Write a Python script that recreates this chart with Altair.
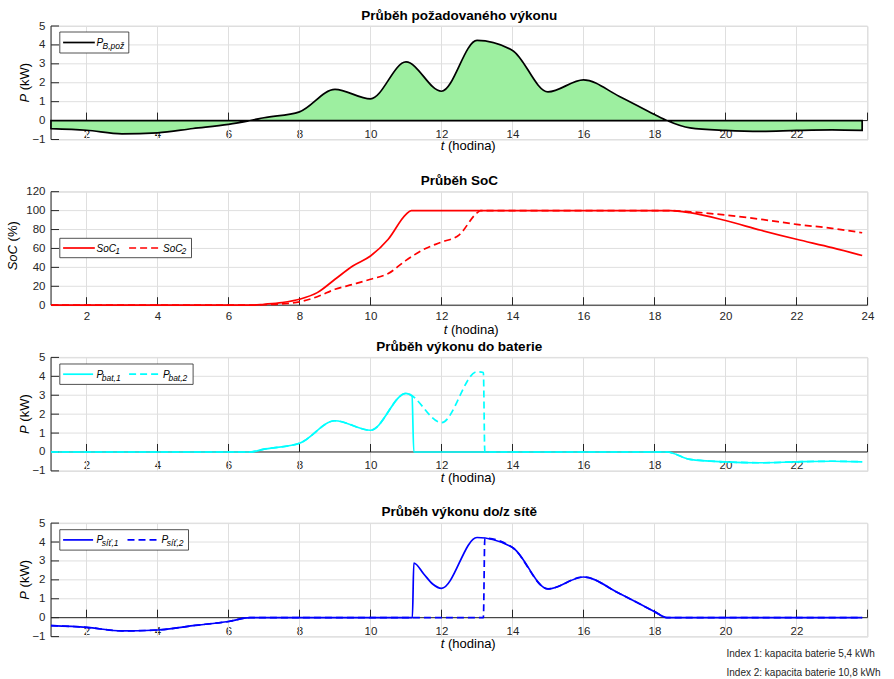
import altair as alt
import pandas as pd

# ---------------- data ----------------
hours_grid = [2, 4, 6, 8, 10, 12, 14, 16, 18, 20, 22, 24]
x_labels_origin = [2, 4, 6, 8, 10, 12, 14, 16, 18, 20, 22]
x_labels_soc = [2, 4, 6, 8, 10, 12, 14, 16, 18, 20, 22, 24]
p_ticks = [-1, 0, 1, 2, 3, 4, 5]
soc_ticks = [0, 20, 40, 60, 80, 100, 120]

# requested power P_B,pož (kW)
t_b = [1, 2, 3, 4, 5, 6, 6.6, 7, 8, 9, 10, 11, 12, 13, 14, 15, 16, 17, 18, 18.35,
       19, 20, 21, 22, 23, 23.85]
p_b = [-0.42, -0.51, -0.70, -0.65, -0.42, -0.20, 0.0, 0.15, 0.46, 1.65, 1.15, 3.10,
       1.55, 4.24, 3.71, 1.52, 2.15, 1.29, 0.32, 0.0, -0.39, -0.52, -0.57, -0.52,
       -0.49, -0.52]

# state of charge (%)
t_soc1 = [1, 6.65, 7, 7.5, 8, 8.5, 9, 9.5, 10, 10.5, 11, 11.15, 18.45, 19, 20, 21,
          22, 23, 23.85]
soc1 = [0, 0, 1, 2.8, 6.3, 13.3, 27.4, 41.5, 52, 69.7, 96, 100, 100, 97.8, 89.5,
        79.2, 69.7, 60.9, 52.5]
t_soc2 = [1, 6.65, 7, 7.5, 8, 8.5, 9, 9.5, 10, 10.5, 11, 11.5, 12, 12.5, 13, 13.1,
          18.45, 19, 20, 21, 22, 23, 23.85]
soc2 = [0, 0, 0.5, 1.4, 3.5, 9, 16.8, 22, 27.4, 33.5, 47.4, 59, 66.7, 74.4, 97.6,
        100, 100, 98.8, 95.3, 90.8, 85.5, 81.3, 76.6]

# battery power (kW)
t_bat1 = [1, 6.6, 7, 8, 9, 10, 11, 11.17, 11.22, 18.35, 19, 20, 21, 22, 23, 23.85]
p_bat1 = [0, 0, 0.15, 0.46, 1.65, 1.15, 3.10, 2.95, 0, 0, -0.39, -0.52, -0.57,
          -0.52, -0.49, -0.52]
t_bat2 = [1, 6.6, 7, 8, 9, 10, 11, 12, 13, 13.18, 13.22, 18.35, 19, 20, 21, 22, 23,
          23.85]
p_bat2 = [0, 0, 0.15, 0.46, 1.65, 1.15, 3.10, 1.55, 4.24, 4.2, 0, 0, -0.39, -0.52,
          -0.57, -0.52, -0.49, -0.52]

# grid power (kW)
t_sit1 = [1, 2, 3, 4, 5, 6, 6.6, 11.18, 11.22, 11.5, 11.75, 12, 13, 14, 15, 16, 17,
          18, 18.35, 23.85]
p_sit1 = [-0.42, -0.51, -0.70, -0.65, -0.42, -0.20, 0, 0, 2.89, 2.31, 1.78, 1.55,
          4.24, 3.71, 1.52, 2.15, 1.29, 0.32, 0, 0]
t_sit2 = [1, 2, 3, 4, 5, 6, 6.6, 13.18, 13.22, 14, 15, 16, 17, 18, 18.35, 23.85]
p_sit2 = [-0.42, -0.51, -0.70, -0.65, -0.42, -0.20, 0, 0, 4.2, 3.71, 1.52, 2.15,
          1.29, 0.32, 0, 0]

# ---------------- style ----------------
W, H = 816.5, 113.5
FONT = "Liberation Sans"
AX = "#262626"
GRID = "#dfdfdf"
LW = 1.7
DASH = [7, 4]
one = pd.DataFrame({"k": [0]})
x_scale = alt.Scale(domain=[1, 24], nice=False, zero=False)


def txt(s, x, y, size=13, style="normal", weight="normal", align="left",
        baseline="alphabetic", angle=0, color="black"):
    return alt.Chart(one).mark_text(
        text=s, fontSize=size, fontStyle=style, fontWeight=weight, align=align,
        baseline=baseline, angle=angle, color=color, font=FONT
    ).encode(x=alt.value(x), y=alt.value(y))


def legend_box(x1, x2, y1, y2):
    return alt.Chart(one).mark_rect(fill="white", stroke=AX, strokeWidth=0.8).encode(
        x=alt.value(x1), x2=alt.value(x2), y=alt.value(y1), y2=alt.value(y2))


def legend_line(x1, x2, y, color, dashed=False):
    kw = dict(color=color, strokeWidth=LW)
    if dashed:
        kw["strokeDash"] = DASH
    return alt.Chart(one).mark_rule(**kw).encode(
        x=alt.value(x1), x2=alt.value(x2), y=alt.value(y), y2=alt.value(y))


def frame(ydom, yvals, xlabels, x_offset, x_pad):
    ys = alt.Scale(domain=ydom, nice=False, zero=False)
    xa = alt.Axis(values=xlabels, grid=False, ticks=False, domain=False,
                  labelFont=FONT, labelFontSize=11.5, labelColor=AX,
                  labelPadding=x_pad, labelFlush=False, labelOverlap=False,
                  title=None, offset=x_offset)
    ya = alt.Axis(values=yvals, grid=False, ticks=False, domain=False,
                  labelFont=FONT, labelFontSize=11.5, labelColor=AX,
                  labelPadding=6, labelFlush=False, labelOverlap=False, title=None)

    def X(f):
        return alt.X(f, type="quantitative", scale=x_scale, axis=xa)

    def Y(f):
        return alt.Y(f, type="quantitative", scale=ys, axis=ya)

    def XD(v):
        return alt.XDatum(v, type="quantitative", scale=x_scale, axis=xa)

    def YD(v):
        return alt.YDatum(v, type="quantitative", scale=ys, axis=ya)

    hg = pd.DataFrame({"h": hours_grid})
    yg = pd.DataFrame({"v": yvals})
    layers = [
        alt.Chart(hg).mark_rule(color=GRID, strokeWidth=1).encode(x=X("h")),
        alt.Chart(yg).mark_rule(color=GRID, strokeWidth=1).encode(y=Y("v")),
        alt.Chart(one).mark_rule(color=AX, strokeWidth=1).encode(y=YD(0)),
        alt.Chart(one).mark_rule(color=AX, strokeWidth=1).encode(x=XD(1)),
        alt.Chart(hg).mark_rule(color=AX, strokeWidth=1, y2Offset=-8).encode(
            x=X("h"), y=YD(0), y2=alt.Y2Datum(0)),
        alt.Chart(yg).mark_rule(color=AX, strokeWidth=1, x2Offset=8).encode(
            y=Y("v"), x=XD(1), x2=alt.X2Datum(1)),
    ]
    return layers, X, Y


def line(t, v, color, X, Y, dashed=False):
    kw = dict(color=color, strokeWidth=LW, interpolate="monotone")
    if dashed:
        kw["strokeDash"] = DASH
    return alt.Chart(pd.DataFrame({"t": t, "p": v})).mark_line(**kw).encode(
        x=X("t"), y=Y("p"))


def xtitle(x, y):
    return [txt("t", x, y, style="italic"), txt("(hodina)", x + 7.2, y)]


def ytitle_p(x, y0):
    return [txt("P", x, y0, style="italic", angle=270, baseline="middle"),
            txt("(kW)", x, y0 - 12.3, angle=270, baseline="middle")]


OFF = -H / 6

# ---------- panel 1 ----------
l1, X1, Y1 = frame([-1, 5], p_ticks, x_labels_origin, OFF, 7.5)
area = alt.Chart(pd.DataFrame({"t": t_b, "p": p_b})).mark_area(
    interpolate="monotone", fill="#9DEFA0", stroke="black", strokeWidth=LW,
    opacity=1).encode(x=X1("t"), y=Y1("p"), y2=alt.Y2Datum(0))
p1 = alt.layer(
    *l1, area,
    legend_box(8.8, 77.8, 6, 27), legend_line(12.1, 43.8, 16.5, "black"),
    txt("P", 45.5, 20, size=10, style="italic"),
    txt("B,pož", 51.5, 23, size=8.5, style="italic"),
    *xtitle(389.8, H + 10.5), *ytitle_p(-26.2, 76.6),
    txt("Průběh požadovaného výkonu", W / 2, -6, size=13.5, weight="bold",
        align="center"),
).properties(width=W, height=H)

# ---------- panel 2 ----------
l2, X2, Y2 = frame([0, 120], soc_ticks, x_labels_soc, 0, 5.5)
p2 = alt.layer(
    *l2,
    line(t_soc1, soc1, "#FF0000", X2, Y2),
    line(t_soc2, soc2, "#FF0000", X2, Y2, dashed=True),
    legend_box(8.8, 140.5, 46.6, 66), legend_line(12.1, 43.8, 56.3, "#FF0000"),
    txt("SoC", 45.5, 59.8, size=10, style="italic"),
    txt("1", 64.3, 62.3, size=8.5, style="italic"),
    legend_line(78.1, 108.8, 56.3, "#FF0000", dashed=True),
    txt("SoC", 112.1, 59.8, size=10, style="italic"),
    txt("2", 130.5, 62.3, size=8.5, style="italic"),
    *xtitle(392.8, H + 29),
    txt("SoC", -38.4, 78.6, style="italic", angle=270, baseline="middle"),
    txt("(%)", -38.4, 49.7, angle=270, baseline="middle"),
    txt("Průběh SoC", W / 2, -6.7, size=13.5, weight="bold", align="center"),
).properties(width=W, height=H)

# ---------- panel 3 ----------
l3, X3, Y3 = frame([-1, 5], p_ticks, x_labels_origin, OFF, 7.5)
p3 = alt.layer(
    *l3,
    line(t_bat1, p_bat1, "#00FFFF", X3, Y3),
    line(t_bat2, p_bat2, "#00FFFF", X3, Y3, dashed=True),
    legend_box(8.8, 142.1, 6.6, 27), legend_line(12.1, 42.1, 16.8, "#00FFFF"),
    txt("P", 45.5, 20.3, size=10, style="italic"),
    txt("bat,1", 50.8, 23.3, size=8.5, style="italic"),
    legend_line(78.1, 108.1, 16.8, "#00FFFF", dashed=True),
    txt("P", 112.1, 20.3, size=10, style="italic"),
    txt("bat,2", 117.4, 23.3, size=8.5, style="italic"),
    *xtitle(389.8, H + 11), *ytitle_p(-26.2, 76.6),
    txt("Průběh výkonu do baterie", W / 2, -6.4, size=13.5, weight="bold",
        align="center"),
).properties(width=W, height=H)

# ---------- panel 4 ----------
l4, X4, Y4 = frame([-1, 5], p_ticks, x_labels_origin, OFF, 7.5)
p4 = alt.layer(
    *l4,
    line(t_sit1, p_sit1, "#0000FF", X4, Y4),
    line(t_sit2, p_sit2, "#0000FF", X4, Y4, dashed=True),
    legend_box(8.8, 137.5, 6.6, 27), legend_line(12.1, 42.1, 16.8, "#0000FF"),
    txt("P", 45.5, 20.3, size=10, style="italic"),
    txt("síť,1", 50.8, 23.3, size=8.5, style="italic"),
    legend_line(76.5, 106.1, 16.8, "#0000FF", dashed=True),
    txt("P", 110.5, 20.3, size=10, style="italic"),
    txt("síť,2", 115.8, 23.3, size=8.5, style="italic"),
    *xtitle(389.8, H + 11), *ytitle_p(-26.2, 76.6),
    txt("Průběh výkonu do/z sítě", W / 2, -6.7, size=13.5, weight="bold",
        align="center"),
    txt("Index 1: kapacita baterie 5,4 kWh", 675.5, 133.8, size=10, color=AX),
    txt("Index 2: kapacita baterie 10,8 kWh", 675.5, 152.8, size=10, color=AX),
).properties(width=W, height=H)

chart = alt.vconcat(p1, p2, p3, p4, spacing=51.7, bounds="flush").properties(
    padding={"left": 6, "top": 8, "right": 0, "bottom": 0},
    background="white",
).configure_view(stroke=None).configure(font=FONT)

chart.save("out.html", embed_options={"renderer": "svg", "actions": False})
